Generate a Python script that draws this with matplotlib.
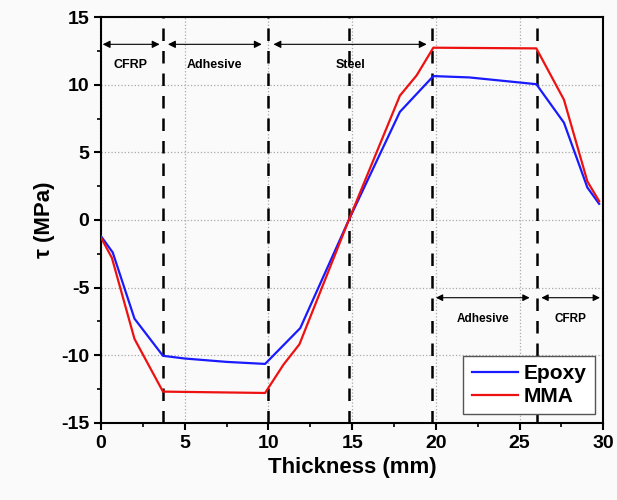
import matplotlib.pyplot as plt
from matplotlib.ticker import MultipleLocator

# thickness positions (mm) and shear stress (MPa)
x_epoxy = [0, 0.7, 2.0, 3.7, 5.0, 7.5, 9.8, 11.9, 14.8, 17.85, 19.85, 22.0, 26.0, 27.65, 29.05, 29.75]
tau_epoxy = [-1.2, -2.4, -7.3, -10.05, -10.25, -10.5, -10.65, -8.0, 0.0, 8.0, 10.65, 10.55, 10.05, 7.2, 2.4, 1.2]

x_mma = [0, 0.65, 2.0, 3.7, 9.8, 10.9, 11.85, 14.8, 17.85, 18.85, 19.85, 26.0, 27.65, 29.05, 29.75]
tau_mma = [-1.3, -2.8, -8.8, -12.7, -12.8, -10.7, -9.2, 0.0, 9.2, 10.7, 12.75, 12.7, 8.9, 2.85, 1.4]

# layer boundaries
boundaries = [3.7, 10.0, 14.8, 19.75, 26.05]

# layer annotations: (label, x_start, x_end, arrow_y, text_x, text_y)
layers_top = [("CFRP", 0.1, 3.5, 13.0, 1.75, 11.5),
              ("Adhesive", 4.0, 9.6, 13.0, 6.75, 11.5),
              ("Steel", 10.3, 19.45, 13.0, 14.9, 11.5)]
layers_bottom = [("Adhesive", 20.0, 25.6, -5.75, 22.8, -7.3),
                 ("CFRP", 26.3, 29.8, -5.75, 28.05, -7.3)]

plt.rcParams['font.family'] = ['Liberation Sans', 'DejaVu Sans']
plt.rcParams['axes.unicode_minus'] = False

fig = plt.figure(figsize=(6.17, 5.0), dpi=100, facecolor='#fafafa')
ax = fig.add_axes([0.1637, 0.1546, 0.8141, 0.8108])
ax.set_facecolor('#fafafa')

ax.plot(x_epoxy, tau_epoxy, color='#1a1aff', lw=1.6, label='Epoxy', zorder=3)
ax.plot(x_mma, tau_mma, color='#ee1111', lw=1.6, label='MMA', zorder=3)

for b in boundaries:
    ax.axvline(b, color='black', lw=1.8, ls=(0, (5, 4)), zorder=2)

for label, x0, x1, ya, tx, ty in layers_top:
    ax.annotate('', xy=(x1, ya), xytext=(x0, ya),
                arrowprops=dict(arrowstyle='<|-|>', color='black', lw=0.8, mutation_scale=11,
                                shrinkA=0, shrinkB=0))
    ax.text(tx, ty, label, ha='center', va='center', fontsize=9, fontweight='bold')

for label, x0, x1, ya, tx, ty in layers_bottom:
    ax.annotate('', xy=(x1, ya), xytext=(x0, ya),
                arrowprops=dict(arrowstyle='<|-|>', color='black', lw=0.8, mutation_scale=10,
                                shrinkA=0, shrinkB=0))
    ax.text(tx, ty, label, ha='center', va='center', fontsize=8.5, fontweight='bold')

ax.set_xlim(0, 30)
ax.set_ylim(-15, 15)
ax.xaxis.set_major_locator(MultipleLocator(5))
ax.xaxis.set_minor_locator(MultipleLocator(2.5))
ax.yaxis.set_major_locator(MultipleLocator(5))
ax.yaxis.set_minor_locator(MultipleLocator(2.5))
ax.grid(True, which='major', color='#aaaaaa', ls=':', lw=0.9)
ax.tick_params(which='major', direction='out', length=5, width=1.5, labelsize=14)
ax.tick_params(which='minor', direction='out', length=3, width=1.2)
for lbl in ax.get_xticklabels() + ax.get_yticklabels():
    lbl.set_fontweight('bold')
for sp in ax.spines.values():
    sp.set_linewidth(1.5)

ax.set_xlabel('Thickness (mm)', fontsize=16, fontweight='bold')
ax.set_ylabel('τ (MPa)', fontsize=16, fontweight='bold')

leg = ax.legend(loc='lower right', prop={'weight': 'bold', 'size': 15},
                fancybox=False, framealpha=1, edgecolor='#555555',
                handlelength=2.2, borderaxespad=0.4, labelspacing=0.2, handletextpad=0.3)
leg.get_frame().set_linewidth(1.0)

fig.savefig('out.png', dpi=100, facecolor=fig.get_facecolor())
